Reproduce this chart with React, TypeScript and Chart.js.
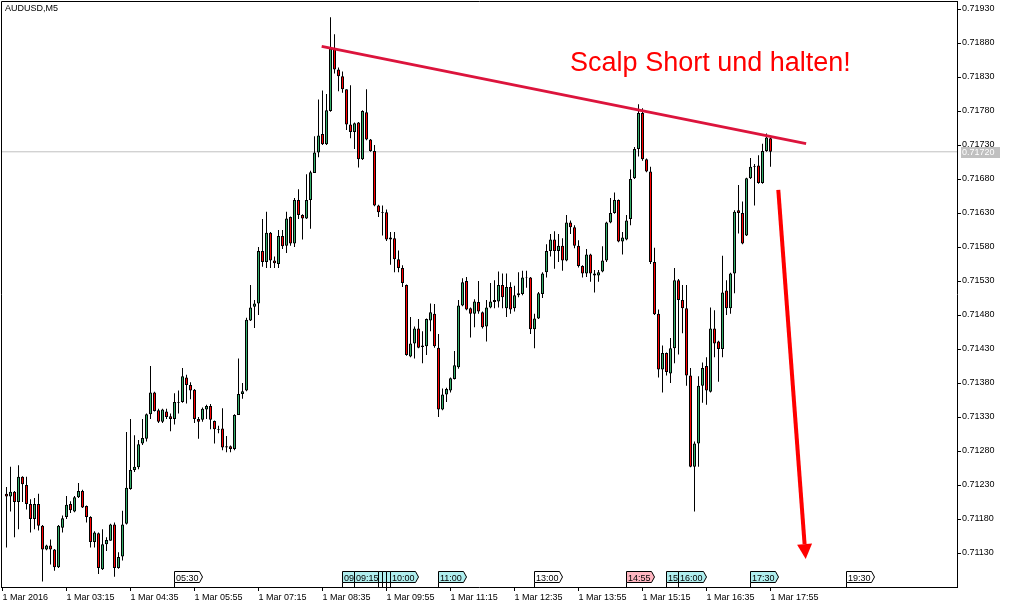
import React, { useEffect, useRef } from "react";
import { Chart, registerables } from "chart.js";

Chart.register(...registerables);

// ---- Data (AUDUSD, M5, 1 Mar 2016, bars from 02:00 to 17:55) ----
const OPEN = [
  0.71217, 0.71213, 0.7122, 0.71205, 0.71242, 0.7123, 0.71202, 0.7118, 0.71202, 0.7117,
  0.71135, 0.71141, 0.71135, 0.71109, 0.71167, 0.71183, 0.71202, 0.71191, 0.71212, 0.71221,
  0.71199, 0.71183, 0.71146, 0.71159, 0.71106, 0.71143, 0.71148, 0.71172, 0.71108, 0.71125,
  0.71173, 0.71224, 0.71252, 0.71256, 0.71291, 0.71298, 0.71334, 0.71366, 0.7134, 0.71323,
  0.71338, 0.71331, 0.71327, 0.71351, 0.71352, 0.71388, 0.71377, 0.7137, 0.71327, 0.71326,
  0.71341, 0.71346, 0.71324, 0.71312, 0.71313, 0.71285, 0.71287, 0.71283, 0.71333, 0.71364,
  0.71369, 0.71472, 0.71492, 0.71497, 0.71574, 0.71558, 0.71601, 0.7156, 0.71555, 0.71596,
  0.71582, 0.71624, 0.71585, 0.71649, 0.71627, 0.71622, 0.71649, 0.71689, 0.71719, 0.71746,
  0.71731, 0.7178, 0.71871, 0.71841, 0.71831, 0.71812, 0.7176, 0.71749, 0.71763, 0.71709,
  0.71778, 0.71738, 0.71721, 0.71641, 0.71631, 0.71631, 0.71591, 0.71593, 0.71562, 0.71549,
  0.71524, 0.71419, 0.71438, 0.7146, 0.71435, 0.71434, 0.71472, 0.71482, 0.71432, 0.71341,
  0.71363, 0.71369, 0.71386, 0.71403, 0.71494, 0.7153, 0.7149, 0.71482, 0.71499, 0.71484,
  0.71463, 0.71491, 0.71499, 0.715, 0.71524, 0.7149, 0.71521, 0.7149, 0.71509, 0.71511,
  0.71535, 0.71535, 0.71459, 0.71475, 0.71511, 0.71543, 0.71574, 0.71591, 0.71574, 0.71582,
  0.7156, 0.71616, 0.71609, 0.71582, 0.71552, 0.71541, 0.71569, 0.71541, 0.71538, 0.71544,
  0.7156, 0.71616, 0.7163, 0.71649, 0.71588, 0.71591, 0.71621, 0.71681, 0.71724, 0.71777,
  0.71709, 0.71691, 0.71558, 0.71482, 0.714, 0.71424, 0.71394, 0.71431, 0.71531, 0.71502,
  0.7149, 0.71391, 0.71257, 0.71291, 0.71376, 0.71405, 0.71367, 0.7146, 0.71441, 0.7143,
  0.71516, 0.7149, 0.71541, 0.71634, 0.7163, 0.71597, 0.71681, 0.71698, 0.717, 0.71674,
  0.71721, 0.7174,
];
const HIGH = [
  0.71227, 0.71257, 0.71221, 0.71259, 0.71243, 0.71242, 0.71209, 0.71211, 0.71217, 0.71171,
  0.71142, 0.7115, 0.71136, 0.71171, 0.71185, 0.71214, 0.71206, 0.71214, 0.71233, 0.71223,
  0.712, 0.71184, 0.71162, 0.7116, 0.71165, 0.71153, 0.71173, 0.71175, 0.71131, 0.71192,
  0.71308, 0.71327, 0.71303, 0.71296, 0.71327, 0.71335, 0.71405, 0.71367, 0.71342, 0.71342,
  0.71342, 0.71335, 0.71365, 0.71369, 0.71402, 0.71392, 0.71381, 0.71371, 0.7133, 0.71344,
  0.71348, 0.71349, 0.71325, 0.71317, 0.71343, 0.71302, 0.71288, 0.71334, 0.71416, 0.7138,
  0.71476, 0.71524, 0.71502, 0.7158, 0.71621, 0.71632, 0.71602, 0.71566, 0.71605, 0.71605,
  0.71632, 0.71625, 0.71652, 0.71665, 0.71628, 0.71687, 0.71692, 0.71743, 0.71797, 0.7181,
  0.71805, 0.71918, 0.71893, 0.71844, 0.71838, 0.71812, 0.71818, 0.71763, 0.71764, 0.71781,
  0.71812, 0.71739, 0.7173, 0.71642, 0.71641, 0.71635, 0.71602, 0.71602, 0.71575, 0.71553,
  0.71525, 0.71477, 0.71463, 0.71474, 0.71456, 0.71475, 0.71497, 0.71496, 0.71452, 0.71372,
  0.71373, 0.71388, 0.71427, 0.71502, 0.71534, 0.71536, 0.71491, 0.71503, 0.7153, 0.71485,
  0.71502, 0.71527, 0.71531, 0.71544, 0.71541, 0.71541, 0.71528, 0.71523, 0.71543, 0.71545,
  0.71545, 0.71536, 0.71482, 0.71514, 0.71543, 0.71584, 0.71599, 0.71603, 0.71599, 0.71593,
  0.71627, 0.71619, 0.71612, 0.7159, 0.71553, 0.71577, 0.7157, 0.71546, 0.71546, 0.71581,
  0.71617, 0.71652, 0.7166, 0.7165, 0.71602, 0.71627, 0.71694, 0.71727, 0.7179, 0.71784,
  0.7171, 0.71698, 0.71579, 0.71488, 0.71435, 0.71425, 0.71446, 0.71549, 0.71533, 0.71524,
  0.71524, 0.71402, 0.71294, 0.7139, 0.7141, 0.71418, 0.71491, 0.71487, 0.71442, 0.71567,
  0.71531, 0.71542, 0.71634, 0.71671, 0.71647, 0.71682, 0.71711, 0.71702, 0.71715, 0.71732,
  0.71747, 0.71741,
];
const LOW = [
  0.71138, 0.71191, 0.71153, 0.71165, 0.71205, 0.71194, 0.7116, 0.71165, 0.71163, 0.71088,
  0.71134, 0.71113, 0.71104, 0.71108, 0.7116, 0.7118, 0.71189, 0.7119, 0.71211, 0.71196,
  0.71175, 0.71138, 0.71138, 0.71099, 0.71105, 0.71133, 0.71148, 0.71095, 0.71107, 0.71119,
  0.71172, 0.71223, 0.71249, 0.71253, 0.71289, 0.71294, 0.71327, 0.71338, 0.71321, 0.71321,
  0.71327, 0.71309, 0.71319, 0.71335, 0.71351, 0.7135, 0.71356, 0.71321, 0.71298, 0.71323,
  0.71327, 0.71312, 0.71291, 0.71306, 0.71281, 0.71278, 0.71278, 0.71281, 0.71333, 0.71357,
  0.71368, 0.71471, 0.71461, 0.7148, 0.71551, 0.71549, 0.71549, 0.71549, 0.71549, 0.71577,
  0.71571, 0.71582, 0.7158, 0.71621, 0.71591, 0.71621, 0.71607, 0.71689, 0.71712, 0.7173,
  0.7173, 0.71779, 0.71835, 0.71809, 0.71807, 0.71752, 0.7174, 0.71724, 0.71697, 0.71708,
  0.71737, 0.7172, 0.7164, 0.71624, 0.71597, 0.71589, 0.71554, 0.71543, 0.71543, 0.71521,
  0.7142, 0.71418, 0.71416, 0.71431, 0.71409, 0.71421, 0.71456, 0.71432, 0.7133, 0.7134,
  0.71352, 0.71366, 0.71385, 0.71401, 0.71493, 0.71487, 0.71447, 0.71462, 0.71482, 0.7146,
  0.71441, 0.7149, 0.7149, 0.71491, 0.7149, 0.71477, 0.71482, 0.71485, 0.71506, 0.71509,
  0.7152, 0.71452, 0.71431, 0.71474, 0.71505, 0.71535, 0.71566, 0.71548, 0.71558, 0.71545,
  0.71559, 0.71599, 0.71578, 0.7155, 0.71535, 0.71536, 0.71529, 0.71513, 0.71529, 0.71543,
  0.71558, 0.71615, 0.71629, 0.71587, 0.71569, 0.7159, 0.71612, 0.7168, 0.71713, 0.71707,
  0.7169, 0.71555, 0.7148, 0.71388, 0.71366, 0.71391, 0.7138, 0.71409, 0.71422, 0.71453,
  0.71376, 0.71256, 0.71191, 0.71257, 0.71351, 0.71348, 0.71366, 0.71418, 0.71382, 0.71418,
  0.7148, 0.71482, 0.71512, 0.716, 0.71584, 0.71596, 0.7168, 0.71641, 0.71673, 0.71673,
  0.7172, 0.71698,
];
const CLOSE = [
  0.71213, 0.7122, 0.71205, 0.71242, 0.71231, 0.71202, 0.7118, 0.71202, 0.7117, 0.71135,
  0.71141, 0.71135, 0.71109, 0.7117, 0.71181, 0.71201, 0.71193, 0.71212, 0.71221, 0.71197,
  0.71183, 0.71146, 0.7116, 0.71108, 0.71143, 0.71149, 0.71172, 0.71108, 0.71124, 0.71172,
  0.71226, 0.71252, 0.71257, 0.7129, 0.71299, 0.71334, 0.71366, 0.71339, 0.71323, 0.71341,
  0.7133, 0.71327, 0.71352, 0.71352, 0.7139, 0.71377, 0.71369, 0.71327, 0.71323, 0.71342,
  0.71346, 0.71326, 0.71312, 0.71311, 0.71285, 0.71287, 0.71283, 0.71333, 0.71364, 0.71368,
  0.71473, 0.71491, 0.71497, 0.71574, 0.71558, 0.71601, 0.7156, 0.71556, 0.71596, 0.71581,
  0.71622, 0.71585, 0.71649, 0.71627, 0.71622, 0.71649, 0.7169, 0.71719, 0.71744, 0.71731,
  0.71781, 0.71872, 0.71841, 0.71831, 0.71812, 0.7176, 0.71749, 0.71762, 0.71709, 0.7178,
  0.71738, 0.71721, 0.71641, 0.71631, 0.7163, 0.71591, 0.71594, 0.71562, 0.71549, 0.71527,
  0.71421, 0.71438, 0.7146, 0.71432, 0.71433, 0.71474, 0.71484, 0.71434, 0.71341, 0.71363,
  0.71371, 0.71387, 0.71406, 0.71494, 0.71528, 0.71488, 0.71482, 0.715, 0.71485, 0.71462,
  0.71491, 0.715, 0.71502, 0.71524, 0.71506, 0.71521, 0.71488, 0.71509, 0.71512, 0.71535,
  0.71536, 0.71459, 0.71475, 0.71512, 0.71541, 0.71574, 0.71591, 0.71574, 0.71582, 0.7156,
  0.71616, 0.71609, 0.71582, 0.71552, 0.71541, 0.71569, 0.71541, 0.71538, 0.71543, 0.7156,
  0.71616, 0.7163, 0.71649, 0.71588, 0.71594, 0.71619, 0.7168, 0.71724, 0.71777, 0.71709,
  0.71691, 0.71558, 0.71481, 0.714, 0.71424, 0.71396, 0.71431, 0.71531, 0.71502, 0.7149,
  0.71391, 0.71257, 0.71291, 0.71376, 0.71402, 0.71369, 0.7146, 0.71438, 0.7143, 0.71513,
  0.7149, 0.71541, 0.71632, 0.7163, 0.71585, 0.71681, 0.71698, 0.71699, 0.71674, 0.71721,
  0.71741, 0.7172,
];

// x axis ticks (bar index) and labels
const X_TICK_INDEX = [-1, 15, 31, 47, 63, 79, 95, 111, 127, 143, 159, 175, 191];
const X_TICK_LABELS = [
  "1 Mar 2016", "1 Mar 03:15", "1 Mar 04:35", "1 Mar 05:55", "1 Mar 07:15", "1 Mar 08:35",
  "1 Mar 09:55", "1 Mar 11:15", "1 Mar 12:35", "1 Mar 13:55", "1 Mar 15:15", "1 Mar 16:35",
  "1 Mar 17:55",
];
const X_MIN = -1.375;
const X_MAX = 237.625;

// y axis ticks
const Y_TICKS = [
  0.7113, 0.7118, 0.7123, 0.7128, 0.7133, 0.7138, 0.7143, 0.7148, 0.7153,
  0.7158, 0.7163, 0.7168, 0.7173, 0.7178, 0.7183, 0.7188, 0.7193,
];
const Y_MIN = 0.7108;
const Y_MAX = 0.71941765;

// current bid line
const BID = 0.7172;

// trend line (bar index, price)
const TREND_X = [78.8, 199.9];
const TREND_Y = [0.71875, 0.71732];

// red arrow (bar index, price) start -> tip
const ARROW_X = [192.95, 199.8];
const ARROW_Y = [0.71664, 0.71121];

// note
const NOTE_TEXT = "Scalp Short und halten!";
const NOTE_X = 140.9;
const NOTE_Y = 0.71839;

const SYMBOL_LABEL = "AUDUSD,M5";

// event markers on the time axis
const EVENT_INDEX = [42, 84, 87, 93, 94, 95, 96, 108, 132, 155, 165, 168, 186, 210];
const EVENT_LABELS = [
  "05:30", "09:00", "09:15", "09:45", "09:50", "09:55", "10:00", "11:00",
  "13:00", "14:55", "15:45", "16:00", "17:30", "19:30",
];
const EVENT_KIND = [
  "none", "low", "low", "low", "low", "low", "low", "low",
  "none", "high", "low", "low", "low", "none",
];

const FONT = "'Liberation Sans', Arial, sans-serif";
const GREEN = "#33AE6A";
const RED = "#FF0000";
const EVENT_FILL: Record<string, string> = { none: "#FFFFFF", low: "#AFEEEE", high: "#FFB6C1" };

const overlayPlugin = {
  id: "mtOverlay",
  afterDraw(chart: any) {
    const ctx = chart.ctx as CanvasRenderingContext2D;
    const xs = chart.scales.x;
    const ys = chart.scales.y;
    const a = chart.chartArea;
    ctx.save();

    // frame (left & top)
    ctx.strokeStyle = "#000";
    ctx.lineWidth = 1;
    ctx.beginPath();
    ctx.moveTo(a.left + 0.5, a.bottom);
    ctx.lineTo(a.left + 0.5, a.top + 0.5);
    ctx.lineTo(a.right, a.top + 0.5);
    ctx.stroke();

    // symbol label
    ctx.fillStyle = "#000";
    ctx.font = `9px ${FONT}`;
    ctx.textAlign = "left";
    ctx.textBaseline = "alphabetic";
    ctx.fillText(SYMBOL_LABEL, a.left + 4, a.top + 10);

    // note text
    ctx.fillStyle = "#FF0000";
    ctx.font = `27px ${FONT}`;
    ctx.fillText(NOTE_TEXT, xs.getPixelForValue(NOTE_X), ys.getPixelForValue(NOTE_Y));

    // arrow
    const x0 = xs.getPixelForValue(ARROW_X[0]);
    const y0 = ys.getPixelForValue(ARROW_Y[0]);
    const x1 = xs.getPixelForValue(ARROW_X[1]);
    const y1 = ys.getPixelForValue(ARROW_Y[1]);
    const len = Math.hypot(x1 - x0, y1 - y0);
    const ux = (x1 - x0) / len;
    const uy = (y1 - y0) / len;
    const headLen = 15;
    const headHalf = 7.5;
    const bx = x1 - ux * headLen;
    const by = y1 - uy * headLen;
    ctx.strokeStyle = "#FF0000";
    ctx.fillStyle = "#FF0000";
    ctx.lineWidth = 4;
    ctx.lineCap = "butt";
    ctx.beginPath();
    ctx.moveTo(x0, y0);
    ctx.lineTo(bx, by);
    ctx.stroke();
    ctx.beginPath();
    ctx.moveTo(x1, y1);
    ctx.lineTo(bx - uy * headHalf, by + ux * headHalf);
    ctx.lineTo(bx + uy * headHalf, by - ux * headHalf);
    ctx.closePath();
    ctx.fill();

    // events (later flags drawn over earlier ones)
    ctx.lineWidth = 1;
    ctx.font = `9px ${FONT}`;
    const top = a.bottom - 16 + 0.5;
    const bot = a.bottom - 5 + 0.5;
    EVENT_INDEX.forEach((idx, i) => {
      const xl = Math.floor(xs.getPixelForValue(idx)) + 0.5;
      if (xl > a.right) return;
      ctx.beginPath();
      ctx.moveTo(xl, top);
      ctx.lineTo(xl + 25, top);
      ctx.lineTo(xl + 28, (top + bot) / 2);
      ctx.lineTo(xl + 25, bot);
      ctx.lineTo(xl, bot);
      ctx.closePath();
      ctx.fillStyle = EVENT_FILL[EVENT_KIND[i]];
      ctx.fill();
      ctx.strokeStyle = "#000";
      ctx.stroke();
      ctx.beginPath();
      ctx.moveTo(xl, bot);
      ctx.lineTo(xl, a.bottom);
      ctx.stroke();
      // text only where it is not hidden by the next flag
      const next = i + 1 < EVENT_INDEX.length ? Math.floor(xs.getPixelForValue(EVENT_INDEX[i + 1])) + 0.5 : Infinity;
      const gap = next - xl;
      if (gap > 6) {
        ctx.save();
        ctx.beginPath();
        ctx.rect(xl + 1, top, Math.min(gap, 30) - 1, bot - top);
        ctx.clip();
        ctx.fillStyle = "#000";
        ctx.textBaseline = "alphabetic";
        ctx.fillText(EVENT_LABELS[i], xl + 1.5, bot - 2);
        ctx.restore();
      }
    });

    // bid label on price axis
    const by2 = Math.round(ys.getPixelForValue(BID));
    ctx.fillStyle = "#C0C0C0";
    ctx.fillRect(a.right + 4, by2 - 5, 39, 11);
    ctx.fillStyle = "#FFFFFF";
    ctx.textBaseline = "middle";
    ctx.font = `9px ${FONT}`;
    ctx.fillText(BID.toFixed(5), a.right + 5, by2 + 0.5);

    ctx.restore();
  },
};

export default function App() {
  const ref = useRef<HTMLCanvasElement>(null);

  useEffect(() => {
    const canvas = ref.current;
    if (!canvas) return;
    const bodies = OPEN.map((o, i) => ({ x: i, y: [o, CLOSE[i]] }));
    const wicks = LOW.map((l, i) => ({ x: i, y: [l, HIGH[i]] }));
    const bodyColors = OPEN.map((o, i) => (CLOSE[i] >= o ? GREEN : RED));

    const chart = new Chart(canvas, {
      type: "bar",
      data: {
        datasets: [
          {
            type: "line",
            data: [
              { x: TREND_X[0], y: TREND_Y[0] },
              { x: TREND_X[1], y: TREND_Y[1] },
            ],
            borderColor: "#DC143C",
            borderWidth: 3,
            pointRadius: 0,
            order: 0,
          } as any,
          {
            data: bodies as any,
            backgroundColor: bodyColors,
            borderColor: "#000",
            borderWidth: 1,
            borderSkipped: false,
            barThickness: 3,
            grouped: false,
            inflateAmount: 0,
            order: 1,
          } as any,
          {
            data: wicks as any,
            backgroundColor: "#000",
            borderWidth: 0,
            barThickness: 1,
            grouped: false,
            inflateAmount: 0,
            order: 2,
          } as any,
          {
            type: "line",
            data: [
              { x: X_MIN, y: BID },
              { x: X_MAX, y: BID },
            ],
            borderColor: "#C0C0C0",
            borderWidth: 1,
            pointRadius: 0,
            order: 3,
          } as any,
        ],
      },
      options: {
        responsive: false,
        maintainAspectRatio: false,
        devicePixelRatio: 1,
        animation: false,
        events: [],
        layout: { padding: { left: 1, top: 1, right: 0, bottom: 0 }, autoPadding: false } as any,
        plugins: { legend: { display: false }, tooltip: { enabled: false } },
        scales: {
          x: {
            type: "linear",
            position: "bottom",
            min: X_MIN,
            max: X_MAX,
            offset: false,
            afterBuildTicks: (s: any) => {
              s.ticks = X_TICK_INDEX.map((v) => ({ value: v }));
            },
            afterFit: (s: any) => {
              s.height = 21;
              s.paddingLeft = 0;
              s.paddingRight = 0;
              s.paddingTop = 0;
              s.paddingBottom = 0;
            },
            grid: { drawOnChartArea: false, drawTicks: true, tickLength: 4, color: "#000", offset: false },
            border: { display: true, color: "#000", width: 1 },
            ticks: {
              align: "start",
              autoSkip: false,
              maxRotation: 0,
              minRotation: 0,
              padding: 1,
              color: "#000",
              font: { family: FONT, size: 9 },
              callback: (v: any) => {
                const i = X_TICK_INDEX.indexOf(Number(v));
                return i >= 0 ? X_TICK_LABELS[i] : "";
              },
            },
          } as any,
          y: {
            type: "linear",
            position: "right",
            min: Y_MIN,
            max: Y_MAX,
            beginAtZero: false,
            afterBuildTicks: (s: any) => {
              s.ticks = Y_TICKS.map((v) => ({ value: v }));
            },
            afterFit: (s: any) => {
              s.width = 54;
              s.paddingLeft = 0;
              s.paddingRight = 0;
              s.paddingTop = 0;
              s.paddingBottom = 0;
            },
            grid: { drawOnChartArea: false, drawTicks: true, tickLength: 4, color: "#000" },
            border: { display: true, color: "#000", width: 1 },
            ticks: {
              autoSkip: false,
              padding: 1,
              color: "#000",
              font: { family: FONT, size: 9 },
              callback: (v: any) => Number(v).toFixed(5),
            },
          } as any,
        },
      },
      plugins: [overlayPlugin],
    } as any);

    return () => chart.destroy();
  }, []);

  return (
    <div style={{ position: "fixed", left: 0, top: 0, width: 1011, height: 608, background: "#fff" }}>
      <canvas ref={ref} width={1011} height={608} style={{ display: "block", width: 1011, height: 608 }} />
    </div>
  );
}
